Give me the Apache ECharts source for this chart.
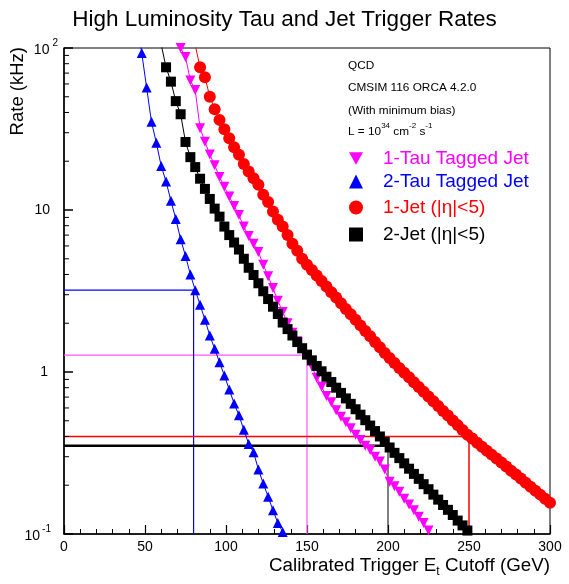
<!DOCTYPE html>
<html>
<head>
<meta charset="utf-8">
<script src="https://cdn.jsdelivr.net/npm/echarts@6/dist/echarts.min.js"></script>
<style>
  html, body { margin: 0; padding: 0; background: #fff; }
  #chart { width: 569px; height: 584px; }
</style>
</head>
<body>
<div id="chart"></div>
<script>
// Trigger thresholds (GeV) and rates (kHz), one bin every 3 GeV
const tau1Et = [69,72,75,78,81,84,87,90,93,96,99,102,105,108,111,114,117,120,123,126,129,132,135,138,141,144,147,150,153,156,159,162,165,168,171,174,177,180,183,186,189,192,195,198,201,204,207,210,213,216,219,222,225];
const tau1Rate = [130,100,88,63,55,32,26.4,22,18.9,16,13.9,12.1,10.6,9.3,7.9,6.9,6.2,5.5,4.6,3.9,3.3,2.75,2.35,2.0,1.75,1.55,1.4,1.26,1.08,0.92,0.81,0.71,0.65,0.58,0.53,0.49,0.45,0.41,0.38,0.35,0.33,0.30,0.28,0.25,0.21,0.197,0.182,0.165,0.152,0.14,0.128,0.117,0.105];

const tau2Et = [45,48,51,54,57,60,63,66,69,72,75,78,81,84,87,90,93,96,99,102,105,108,111,114,117,120,123,126,129,132,135];
const tau2Rate = [150,93,57,35,26,18.7,15,11.4,8.8,6.6,5.2,4.0,3.2,2.6,2.1,1.68,1.39,1.15,0.95,0.78,0.64,0.54,0.44,0.36,0.32,0.25,0.205,0.17,0.14,0.117,0.103];

const jet1Et = [81,84,87,90,93,96,99,102,105,108,111,114,117,120,123,126,129,132,135,138,141,144,147,150,153,156,159,162,165,168,171,174,177,180,183,186,189,192,195,198,201,204,207,210,213,216,219,222,225,228,231,234,237,240,243,246,249,252,255,258,261,264,267,270,273,276,279,282,285,288,291,294,297,300];
const jet1Rate = [104,76,66,50,41.9,36,31.5,27.7,24.4,21.9,19.2,17.3,15.7,14.3,12.4,11.2,9.8,8.7,7.9,7.0,6.2,5.6,5.0,4.6,4.26,3.94,3.64,3.37,3.11,2.88,2.66,2.45,2.27,2.10,1.94,1.79,1.66,1.53,1.42,1.31,1.22,1.135,1.06,0.99,0.927,0.865,0.809,0.755,0.706,0.659,0.617,0.575,0.538,0.502,0.47,0.439,0.41,0.388,0.366,0.346,0.327,0.309,0.292,0.276,0.261,0.246,0.233,0.22,0.207,0.196,0.185,0.175,0.165,0.156];

const jet2Et = [60,63,66,69,72,75,78,81,84,87,90,93,96,99,102,105,108,111,114,117,120,123,126,129,132,135,138,141,144,147,150,153,156,159,162,165,168,171,174,177,180,183,186,189,192,195,198,201,204,207,210,213,216,219,222,225,228,231,234,237,240,243,246,249,252];
const jet2Rate = [105,76,62,47,39,26.3,21.2,18.4,15.6,13.5,11.7,10.2,9.1,7.9,7.0,6.3,5.7,5.0,4.4,3.97,3.53,3.15,2.82,2.53,2.28,2.02,1.84,1.68,1.53,1.40,1.28,1.18,1.09,1.01,0.935,0.867,0.80,0.743,0.687,0.636,0.589,0.545,0.504,0.467,0.432,0.40,0.37,0.342,0.317,0.294,0.273,0.253,0.235,0.219,0.203,0.189,0.175,0.163,0.151,0.141,0.131,0.121,0.113,0.105,0.097];

// Chosen operating points: threshold and resulting rate
const cutEt = [80, 150, 200, 250];
const cutRate = [3.2, 1.27, 0.35, 0.40];

// Y axis decade labels (exponent -> label text)
const yTickExponents = [-1, 0, 1, 2];
const yTickText = ['{b|10}{sm|-1}', '{b1|1}', '{b10|10}', '{b|10}{s|2}'];
const yMinorTicks = [0.2,0.3,0.4,0.5,0.6,0.7,0.8,0.9,2,3,4,5,6,7,8,9,20,30,40,50,60,70,80,90];

const seriesNames = ['1-Tau Tagged Jet', '2-Tau Tagged Jet', '1-Jet (|\u03b7|<5)', '2-Jet (|\u03b7|<5)'];
const seriesColors = ['#ff00ff', '#0000ff', '#ff0000', '#000000'];

const FONT = 'Liberation Sans, Arial, Helvetica, sans-serif';
const downTri = 'path://M0,0L10,0L5,9Z';

function pairs(xs, ys) { return xs.map((x, i) => [x, ys[i]]); }

const chart = echarts.init(document.getElementById('chart'), null, { renderer: 'canvas' });

function dataSeries(idx, xs, ys, symbol, size) {
  return {
    name: seriesNames[idx], type: 'line', data: pairs(xs, ys),
    symbol: symbol, symbolSize: size, showAllSymbol: true,
    itemStyle: { color: seriesColors[idx] },
    lineStyle: { color: seriesColors[idx], width: 1 },
    emphasis: { disabled: true }, clip: true, z: 3 + idx
  };
}

function cutLines(i, color, hWidth, vWidth) {
  return [
    { type: 'line', data: [[0, cutRate[i]], [cutEt[i], cutRate[i]]], symbol: 'none',
      lineStyle: { color: color, width: hWidth }, silent: true, z: 2 },
    { type: 'line', data: [[cutEt[i], cutRate[i]], [cutEt[i], 0.1]], symbol: 'none',
      lineStyle: { color: color, width: vWidth }, silent: true, z: 2 }
  ];
}

const legendTops = [144, 167, 193, 220];
const legendIcons = [downTri, 'triangle', 'circle', 'rect'];

const labelBase = { fontFamily: FONT, fontSize: 14, color: '#000', verticalAlign: 'bottom' };

const option = {
  animation: false,
  backgroundColor: '#fff',
  title: {
    text: 'High Luminosity Tau and Jet Trigger Rates',
    left: 'center', top: 3,
    textStyle: { fontFamily: FONT, fontSize: 22.5, fontWeight: 'normal', color: '#000' }
  },
  grid: { left: 64, right: 19, top: 48, bottom: 50, show: true, borderColor: '#000', borderWidth: 1 },
  legend: seriesNames.map((n, i) => ({
    data: [{ name: n, icon: legendIcons[i], textStyle: { color: seriesColors[i] } }],
    left: 344, top: legendTops[i], itemWidth: 14, itemHeight: 14, itemGap: 0,
    selectedMode: false,
    textStyle: { fontFamily: FONT, fontSize: 19, padding: [0, 0, 0, 15] }
  })),
  xAxis: {
    type: 'value', min: 0, max: 300, interval: 50,
    axisLine: { lineStyle: { color: '#000', width: 1.5 } },
    axisTick: { inside: true, length: 9, lineStyle: { color: '#000', width: 1.2 } },
    minorTick: { show: true, splitNumber: 5, length: 5, lineStyle: { color: '#000', width: 1 } },
    splitLine: { show: false },
    axisLabel: { fontFamily: FONT, fontSize: 14, color: '#000', margin: 6 },
    name: '{n|Calibrated Trigger E}{t|t}{n| Cutoff (GeV)}',
    nameLocation: 'end', nameGap: 0,
    nameTextStyle: {
      align: 'right', verticalAlign: 'top', padding: [22, 0, 0, 0],
      rich: {
        n: { fontFamily: FONT, fontSize: 18.8, color: '#000', verticalAlign: 'top' },
        t: { fontFamily: FONT, fontSize: 12, color: '#000', verticalAlign: 'bottom', padding: [10, 0, 0, 0] }
      }
    }
  },
  yAxis: {
    type: 'log', logBase: 10, min: 0.1, max: 100,
    axisLine: { lineStyle: { color: '#000', width: 1.5 } },
    axisTick: { inside: true, length: 9, lineStyle: { color: '#000', width: 1.5 } },
    splitLine: { show: false },
    axisLabel: {
      margin: 6, color: '#000',
      formatter: function (v) {
        const e = Math.round(Math.log10(v));
        return yTickText[yTickExponents.indexOf(e)];
      },
      rich: {
        b: Object.assign({}, labelBase, { padding: [5, 0, 0, 0] }),
        b1: Object.assign({}, labelBase, { padding: [0, 10, 0, 0] }),
        b10: Object.assign({}, labelBase, { padding: [0, 8, 0, 0] }),
        s: { fontFamily: FONT, fontSize: 10, color: '#000', verticalAlign: 'top', padding: [0, 0, 0, 3] },
        sm: { fontFamily: FONT, fontSize: 10, color: '#000', verticalAlign: 'top', padding: [0, 7, 0, 2] }
      }
    }
  },
  graphic: [
    { type: 'text', left: 348, top: 60, style: { text: 'QCD', font: '11.8px ' + FONT, fill: '#000' } },
    { type: 'text', left: 348, top: 82, style: { text: 'CMSIM 116 ORCA 4.2.0', font: '11.8px ' + FONT, fill: '#000' } },
    { type: 'text', left: 348, top: 105, style: { text: '(With minimum bias)', font: '11.8px ' + FONT, fill: '#000' } },
    { type: 'text', left: 348, top: 122, style: {
        text: '{n|L = 10}{s|34}{n| cm}{s|-2}{n| s}{s|-1}',
        rich: {
          n: { font: '11.8px ' + FONT, fill: '#000', verticalAlign: 'bottom', padding: [4, 0, 0, 0] },
          s: { font: '8px ' + FONT, fill: '#000', verticalAlign: 'top' }
        }
    } },
    { type: 'text', x: 18, y: 47, rotation: Math.PI / 2,
      style: { text: 'Rate (kHz)', font: '18.5px ' + FONT, fill: '#000', textAlign: 'right', textVerticalAlign: 'middle' } }
  ],
  series: [
    ...cutLines(1, '#ff55ff', 1.2, 1.2),
    ...cutLines(0, '#0000ff', 1.2, 1.2),
    ...cutLines(3, '#ff0000', 1.5, 1.5),
    ...cutLines(2, '#000000', 2.5, 1),
    dataSeries(0, tau1Et, tau1Rate, downTri, [10, 10]),
    dataSeries(1, tau2Et, tau2Rate, 'triangle', [10, 10]),
    dataSeries(2, jet1Et, jet1Rate, 'circle', 12),
    dataSeries(3, jet2Et, jet2Rate, 'rect', 10),
    {
      type: 'custom', silent: true, clip: false, z: 10,
      data: yMinorTicks.map(v => [0, v]),
      renderItem: function (params, api) {
        const p = api.coord([api.value(0), api.value(1)]);
        return { type: 'line', shape: { x1: p[0], y1: p[1], x2: p[0] + 5, y2: p[1] },
                 style: { stroke: '#000', lineWidth: 1 } };
      }
    }
  ]
};

chart.setOption(option);
</script>
</body>
</html>
